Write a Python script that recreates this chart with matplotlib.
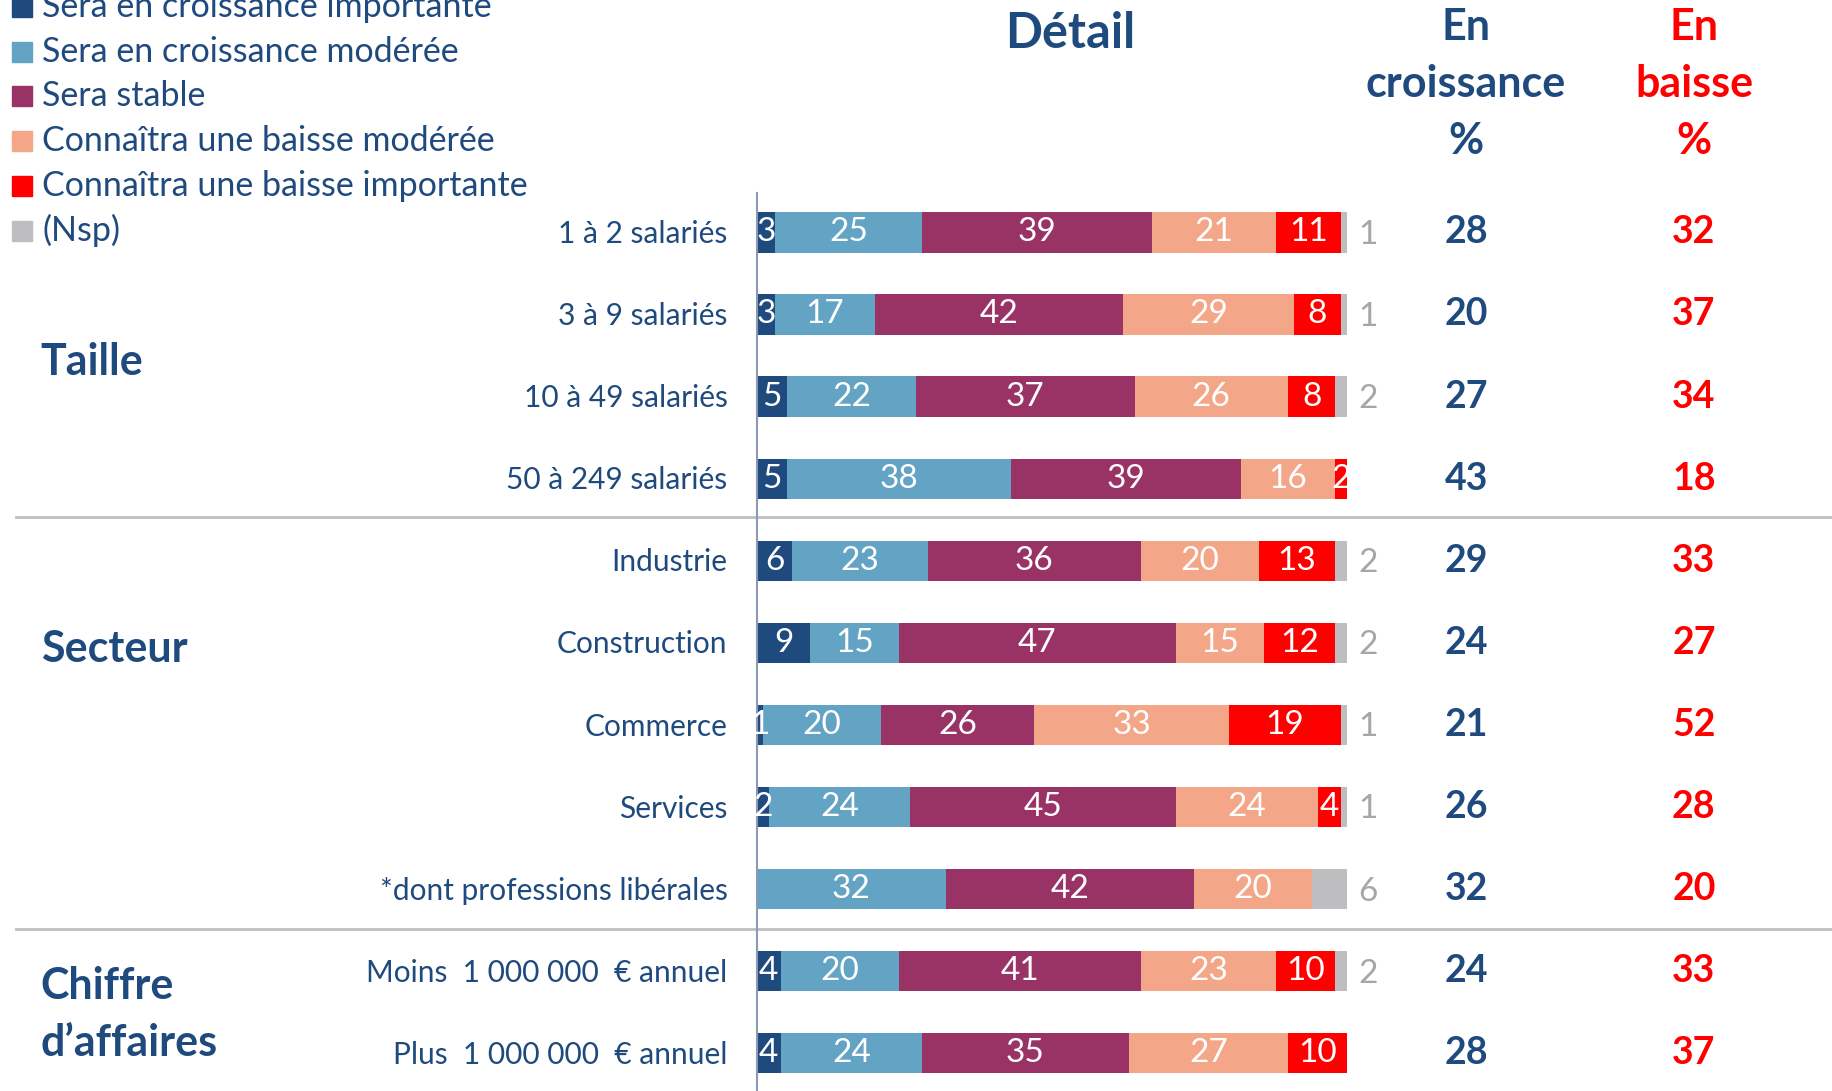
import matplotlib.pyplot as plt
from matplotlib.patches import Rectangle
import numpy as np

plt.rcParams['font.family'] = ['Lato', 'DejaVu Sans']

# --- Data ---
rows = ['1 à 2 salariés', '3 à 9 salariés', '10 à 49 salariés', '50 à 249 salariés',
        'Industrie', 'Construction', 'Commerce', 'Services',
        '*dont professions libérales',
        'Moins  1 000 000  € annuel', 'Plus  1 000 000  € annuel']
series = ['Sera en croissance importante', 'Sera en croissance modérée', 'Sera stable',
          'Connaîtra une baisse modérée', 'Connaîtra une baisse importante', '(Nsp)']
croiss_imp = [3, 3, 5, 5, 6, 9, 1, 2, 0, 4, 4]
croiss_mod = [25, 17, 22, 38, 23, 15, 20, 24, 32, 20, 24]
stable = [39, 42, 37, 39, 36, 47, 26, 45, 42, 41, 35]
baisse_mod = [21, 29, 26, 16, 20, 15, 33, 24, 20, 23, 27]
baisse_imp = [11, 8, 8, 2, 13, 12, 19, 4, 0, 10, 10]
nsp = [1, 1, 2, 0, 2, 2, 1, 1, 6, 2, 0]
en_croissance = [28, 20, 27, 43, 29, 24, 21, 26, 32, 24, 28]
en_baisse = [32, 37, 34, 18, 33, 27, 52, 28, 20, 33, 37]
groups = ['Taille', 'Secteur', 'Chiffre\nd\u2019affaires']
group_pos = [1.58, 5.08, 9.53]
separators = [3.47, 8.49]

colors = ['#1F4A7E', '#63A3C4', '#993366', '#F4A688', '#FF0000', '#BEBEC0']
navy = '#1F4A7E'

W, H = 1832, 1091
fig = plt.figure(figsize=(W / 100, H / 100), dpi=100)
# bar area: x 757..1347 px, y 193..1091 px
ax = fig.add_axes([757 / W, 0, (1347 - 757) / W, (H - 193) / H])
ax.set_xlim(0, 100)
ax.set_ylim(10.46, -0.48)
ax.axis('off')

y = np.arange(len(rows))
data = [croiss_imp, croiss_mod, stable, baisse_mod, baisse_imp, nsp]
left = np.zeros(len(rows))
for i, vals in enumerate(data):
    vals = np.array(vals)
    bars = ax.barh(y, vals, left=left, height=0.49, color=colors[i])
    if i < 5:
        ax.bar_label(bars, labels=[str(v) if v > 0 else '' for v in vals],
                     label_type='center', color='white', fontsize=24)
    left += vals

# Nsp values outside the bars
for yi, v in zip(y, nsp):
    if v > 0:
        ax.text(103.6, yi + 0.03, str(v), color='#A6A6A6', fontsize=24,
                ha='center', va='center', clip_on=False)

# row labels
for yi, lab in zip(y, rows):
    ax.text(-5.0, yi + 0.02, lab, color=navy, fontsize=21.5, ha='right', va='center',
            clip_on=False)

# summary columns
for yi, a, b in zip(y, en_croissance, en_baisse):
    ax.text(120.2, yi, str(a), color=navy, fontsize=27, fontweight='bold',
            ha='center', va='center', clip_on=False)
    ax.text(158.8, yi, str(b), color='#FF0000', fontsize=27, fontweight='bold',
            ha='center', va='center', clip_on=False)

# group labels
for g, gp in zip(groups, group_pos):
    ax.text(-121.4, gp, g, color=navy, fontsize=31, fontweight='bold',
            ha='left', va='center', linespacing=1.5, clip_on=False)

# separators and vertical axis line
for s in separators:
    ax.plot([-125.6, 183], [s, s], color='#BFBFBF', lw=2, clip_on=False)
ax.plot([0, 0], [-0.48, 10.46], color='#8A9AB5', lw=1.5, clip_on=False)

# headers
fig.text(1070 / W, 1 - 33 / H, 'Détail', color=navy, fontsize=35, fontweight='bold',
         ha='center', va='center')
for k, line in enumerate(['En', 'croissance', '%']):
    fig.text(1466 / W, 1 - (27 + k * 57) / H, line, color=navy, fontsize=31,
             fontweight='bold', ha='center', va='center')
for k, line in enumerate(['En', 'baisse', '%']):
    fig.text(1694 / W, 1 - (27 + k * 57) / H, line, color='#FF0000', fontsize=31,
             fontweight='bold', ha='center', va='center')

# legend
for k, (name, c) in enumerate(zip(series, colors)):
    yc = 7 + k * 44.7
    fig.add_artist(Rectangle((12 / W, 1 - (yc + 10) / H), 20 / W, 20 / H,
                             color=c, transform=fig.transFigure))
    fig.text(42 / W, 1 - yc / H, name, color=navy, fontsize=24.5, ha='left', va='center')

plt.savefig('out.png', dpi=100)
